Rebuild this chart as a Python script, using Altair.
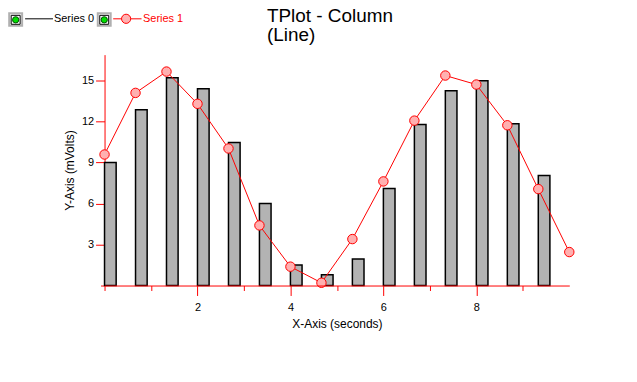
import altair as alt
import pandas as pd

# ---- data ----
bar_x = [0, 0.667, 1.333, 2, 2.667, 3.333, 4, 4.667, 5.333, 6, 6.667, 7.333, 8, 8.667, 9.333]
series0 = [9.0, 12.87, 15.2, 14.4, 10.47, 6.0, 1.5, 0.78, 1.94, 7.1, 11.78, 14.25, 14.98, 11.85, 8.06]
line_x = [0, 0.667, 1.333, 2, 2.667, 3.333, 4, 4.667, 5.333, 6, 6.667, 7.333, 8, 8.667, 9.333, 10]
series1 = [9.59, 14.1, 15.66, 13.3, 10.03, 4.4, 1.38, 0.2, 3.4, 7.62, 12.07, 15.37, 14.71, 11.73, 7.06, 2.45]
x_ticks = [0, 1, 2, 3, 4, 5, 6, 7, 8, 9]
y_ticks = [0, 1.5, 3, 4.5, 6, 7.5, 9, 10.5, 12, 13.5, 15, 16.5]
title_lines = ["TPlot - Column", "(Line)"]
legend_labels = ["Series 0", "Series 1"]

FONT = "Liberation Sans, Arial, sans-serif"
W, H = 467, 232
OX, OY = 105.3, 54  # page position of plot origin (for legend decoration)

bars_df = pd.DataFrame({"x": bar_x, "y": series0})
line_df = pd.DataFrame({"x": line_x, "y": series1})

xscale = alt.Scale(domain=[0, 10], nice=False, zero=False)
yscale = alt.Scale(domain=[0, 16.9], nice=False, zero=False)

xaxis = alt.Axis(
    values=x_ticks, title="X-Axis (seconds)", grid=False,
    domainColor="red", tickColor="red", labelColor="black",
    tickSize={"condition": {"test": "datum.value % 2 == 0 && datum.value > 0", "value": 10}, "value": 5},
    labelExpr="datum.value % 2 == 0 && datum.value > 0 ? datum.label : ''",
    labelFont=FONT, labelFontSize=11, titleFont=FONT, titleFontSize=12,
    titleFontWeight="normal", titleColor="black", labelPadding=6, titlePadding=6,
    zindex=1, labelFlush=False, format="d",
)
yaxis = alt.Axis(
    values=y_ticks, title="Y-Axis (mVolts)", grid=False,
    domainColor="red", tickColor="red", labelColor="black",
    tickSize={"condition": {"test": "datum.value % 3 == 0 && datum.value > 0", "value": 9}, "value": 4},
    labelExpr="datum.value % 3 == 0 && datum.value > 0 ? datum.label : ''",
    labelFont=FONT, labelFontSize=11, titleFont=FONT, titleFontSize=12,
    titleFontWeight="normal", titleColor="black", labelPadding=2, titlePadding=5,
    format="d", labelFlush=False,
)

bars = alt.Chart(bars_df).transform_calculate(x2="datum.x + 0.25").mark_rect(
    fill="#b3b3b3", stroke="black", strokeWidth=1.5
).encode(
    x=alt.X("x:Q", scale=xscale, axis=xaxis),
    x2="x2:Q",
    y=alt.Y("y:Q", scale=yscale, axis=yaxis),
    y2=alt.datum(0),
)

line = alt.Chart(line_df).mark_line(color="red", strokeWidth=1).encode(
    x=alt.X("x:Q", scale=xscale), y=alt.Y("y:Q", scale=yscale)
)
points = alt.Chart(line_df).mark_point(
    shape="circle", filled=True, fill="#ffb0b0", stroke="red", strokeWidth=1, size=90, opacity=1
).encode(x=alt.X("x:Q", scale=xscale), y=alt.Y("y:Q", scale=yscale))

# ---- legend and title decoration (top) ----
one = pd.DataFrame({"k": [0]})


def px(v):
    return alt.value(v - OX)


def py(v):
    return alt.value(v - OY)


deco = []
for bx in (9.5, 98.5):
    deco.append(alt.Chart(one).mark_rect(fill="white", stroke="#b0b0b0", strokeWidth=2).encode(
        x=px(bx), x2=px(bx + 13), y=py(12.5), y2=py(25)))
    deco.append(alt.Chart(one).mark_rect(fill="white", stroke="black", strokeWidth=1).encode(
        x=px(bx + 2), x2=px(bx + 11), y=py(14.5), y2=py(23.5)))
    deco.append(alt.Chart(one).mark_point(shape="circle", filled=True, fill="#00e000",
                                          stroke="#005000", strokeWidth=1, size=40, opacity=1).encode(
        x=px(bx + 6.5), y=py(19)))
deco.append(alt.Chart(one).mark_rule(color="black", strokeWidth=1).encode(
    x=px(25.5), x2=px(53.5), y=py(18)))
deco.append(alt.Chart(one).mark_rule(color="red", strokeWidth=1).encode(
    x=px(114), x2=px(142.5), y=py(18)))
deco.append(alt.Chart(one).mark_point(shape="circle", filled=True, fill="#ffb0b0",
                                      stroke="red", strokeWidth=1, size=85, opacity=1).encode(
    x=px(127), y=py(18)))
deco.append(alt.Chart(one).transform_calculate(t=f"'{legend_labels[0]}'").mark_text(
    font=FONT, fontSize=11, color="black", align="left", baseline="middle").encode(
    x=px(54.5), y=py(18), text="t:N"))
deco.append(alt.Chart(one).transform_calculate(t=f"'{legend_labels[1]}'").mark_text(
    font=FONT, fontSize=11, color="red", align="left", baseline="middle").encode(
    x=px(144), y=py(18), text="t:N"))
for i, tl in enumerate(title_lines):
    deco.append(alt.Chart(one).mark_text(
        font=FONT, fontSize=19, color="black", align="left", baseline="alphabetic",
        text=tl).encode(x=px(268.5), y=py(21.5 + 19 * i)))

chart = alt.layer(bars, line, points, *deco).properties(
    width=W, height=H,
    background="white",
    autosize=alt.AutoSizeParams(type="none"),
    padding={"left": 97, "top": 46, "right": 60, "bottom": 80},
).configure_view(stroke="transparent", strokeWidth=0)

chart.save("out.html", embed_options={"renderer": "svg", "actions": False})
